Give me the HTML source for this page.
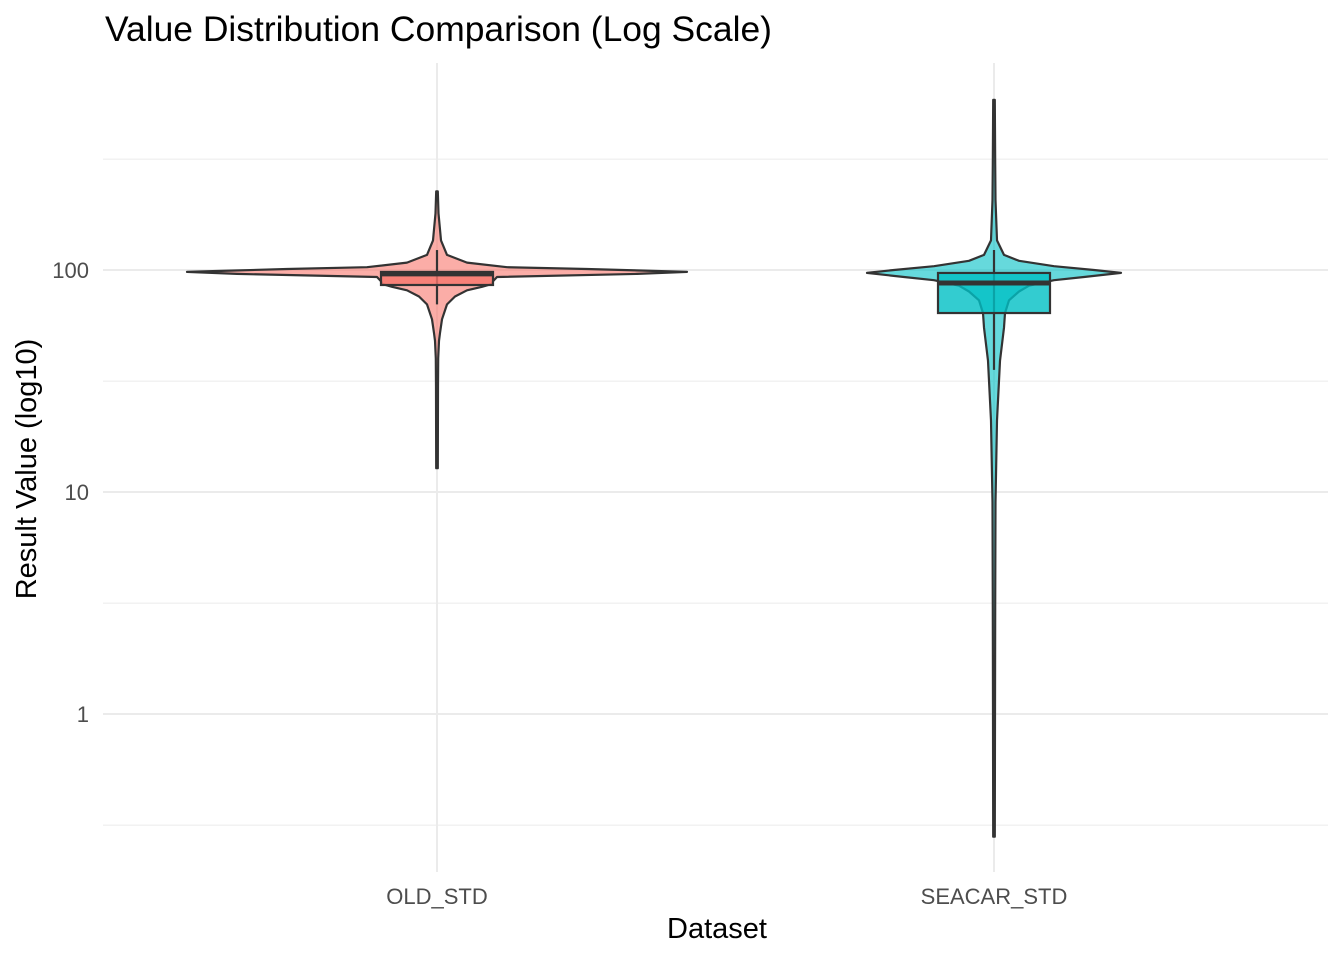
<!DOCTYPE html>
<html><head><meta charset="utf-8"><style>
body{margin:0;background:#fff;font-family:"Liberation Sans",sans-serif}
</style></head><body>
<svg id="chart" width="1344" height="960" xmlns="http://www.w3.org/2000/svg" font-family="Liberation Sans, sans-serif">
<text x="105" y="41" font-size="35" fill="#000" textLength="667" lengthAdjust="spacingAndGlyphs">Value Distribution Comparison (Log Scale)</text>
<g id="grid"></g><g id="marks"></g><g id="axes"></g>
<text x="717" y="938" font-size="29" text-anchor="middle">Dataset</text>
<text transform="translate(36,469) rotate(-90)" font-size="29" text-anchor="middle">Result Value (log10)</text>
</svg>
<script>
const categories=["OLD_STD","SEACAR_STD"];
const majorTicks=[1,10,100];
const tickLabels=["1","10","100"];
const minorTicks=[0.316,3.16,31.6,316];
const oldDensityVals=[226,180,136,117,108,103,101,99,98,96,93,89,86.5,84,81,76,70,60,52,48,40,30,12.8];
const oldDensityW=[0.8,1.5,4,10,30,70,150,220,250,200,60,56,55,45,30,18,10,5,3,2,1.2,1,0.8];
const seaDensityVals=[584,300,207,136,117,110,104,100,97,93,90,85,80,73,64,55,39,21,9,3,1,0.28];
const seaDensityW=[0.8,1.2,1.5,3,10,25,60,100,127,90,60,35,25,15,11,10,6,3,1.5,1.2,1,0.8];
const boxQ1=[85.6,64];const boxMed=[96,87.4];const boxQ3=[98,97];
const whiskLo=[70,35.5];const whiskHi=[123,123];
const fills=["#F8766D","#00BFC4"];
const ns="http://www.w3.org/2000/svg";
const L=103,R=1328;
function y(v){return 270-222*Math.log10(v/100);}
function x(i){return 437+i*557;}
function mk(tag,attrs,parent){const e=document.createElementNS(ns,tag);for(const k in attrs)e.setAttribute(k,attrs[k]);parent.appendChild(e);return e;}
function c(i){return categories[i].toLowerCase();}
const grid=document.getElementById('grid'),marks=document.getElementById('marks'),axes=document.getElementById('axes');
minorTicks.forEach(t=>{const l=mk('line',{x1:L,x2:R,y1:y(t),y2:y(t),stroke:'#ebebeb','stroke-width':1},grid);

});
majorTicks.forEach((t,i)=>{const l=mk('line',{x1:L,x2:R,y1:y(t),y2:y(t),stroke:'#ebebeb','stroke-width':2},grid);


const tx=mk('text',{x:89,y:y(t)+8,'font-size':22,fill:'#4d4d4d','text-anchor':'end'},axes);tx.textContent=tickLabels[i];

});
categories.forEach((cat,i)=>{const l=mk('line',{x1:x(i),x2:x(i),y1:63,y2:872,stroke:'#ebebeb','stroke-width':2},grid);


const tx=mk('text',{x:x(i),y:904,'font-size':22,fill:'#4d4d4d','text-anchor':'middle'},axes);tx.textContent=cat;

});
const dens=[[oldDensityVals,oldDensityW],[seaDensityVals,seaDensityW]];
dens.forEach(([vals,ws],i)=>{
  const cx=x(i);let right=vals.map((v,j)=>[cx+ws[j],y(v)]);let left=vals.map((v,j)=>[cx-ws[j],y(v)]).reverse();
  const pts=right.concat(left);
  const p=mk('path',{d:'M'+pts.map(p=>p[0].toFixed(1)+','+p[1].toFixed(1)).join('L')+'Z',fill:fills[i],'fill-opacity':0.6,stroke:'#333','stroke-width':2.2,'stroke-linejoin':'round'},marks);
  
  
  const wl=mk('line',{x1:cx,x2:cx,y1:y(whiskHi[i]),y2:y(whiskLo[i]),stroke:'#333','stroke-width':2.2},marks);
  
  
  const b=mk('rect',{x:cx-56,width:112,y:y(boxQ3[i]),height:y(boxQ1[i])-y(boxQ3[i]),fill:fills[i],'fill-opacity':0.8,stroke:'#333','stroke-width':2.2},marks);
  
  
  const m=mk('line',{x1:cx-56,x2:cx+56,y1:y(boxMed[i]),y2:y(boxMed[i]),stroke:'#333','stroke-width':5},marks);
  
  
});
</script>
</body></html>
